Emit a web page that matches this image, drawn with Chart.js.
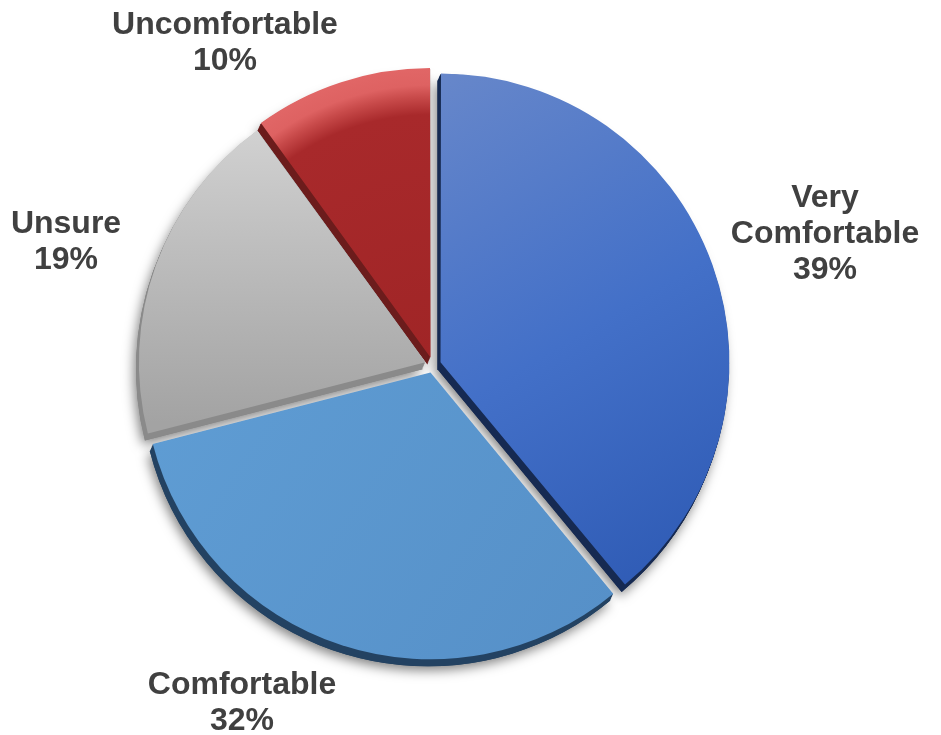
<!DOCTYPE html>
<html>
<head>
<meta charset="utf-8">
<script src="https://cdn.jsdelivr.net/npm/chart.js@4/dist/chart.umd.min.js"></script>
<style>
  html, body { margin: 0; padding: 0; background: #ffffff; }
  #wrap { width: 941px; height: 735px; position: relative; }
</style>
</head>
<body>
<div id="wrap"><canvas id="pieChart"></canvas></div>
<script>
// Survey answers, share of respondents (%)
const categories = ['Very Comfortable', 'Comfortable', 'Unsure', 'Uncomfortable'];
const shares = [39, 32, 19, 10];

// Label text lines as shown next to each slice
const labelLines = [
    ['Very', 'Comfortable'],
    ['Comfortable'],
    ['Unsure'],
    ['Uncomfortable']
];

// where each label block sits (first baseline) - layout only
const labelAnchors = [
    { x: 825, y: 207 },
    { x: 242, y: 694 },
    { x: 66, y: 233 },
    { x: 225, y: 34 }
];

const sideColors = ['#162a52', '#234262', '#8a8a8a', '#6c1c1c'];

function faceColor(context) {
    const chart = context.chart;
    const area = chart.chartArea;
    const i = context.dataIndex;
    const flat = ['#4470c6', '#5b98d0', '#b5b5b5', '#a8292b'];
    if (!area) return flat[i];
    const c = chart.ctx;
    const cx = (area.left + area.right) / 2;
    const cy = (area.top + area.bottom) / 2;
    let g;
    if (i === 0) {
        g = c.createLinearGradient(cx, cy - 290, cx + 300, cy + 220);
        g.addColorStop(0, '#6787ca');
        g.addColorStop(0.5, '#4370c8');
        g.addColorStop(1, '#2c58b2');
    } else if (i === 1) {
        g = c.createLinearGradient(cx - 280, cy, cx + 150, cy + 290);
        g.addColorStop(0, '#5f9dd4');
        g.addColorStop(1, '#5690c8');
    } else if (i === 2) {
        g = c.createLinearGradient(cx, cy - 250, cx, cy + 60);
        g.addColorStop(0, '#d4d4d4');
        g.addColorStop(0.35, '#c2c2c2');
        g.addColorStop(1, '#a3a3a3');
    } else {
        g = c.createRadialGradient(cx, cy, 0, cx, cy, 296);
        g.addColorStop(0, '#a02526');
        g.addColorStop(0.82, '#a8292b');
        g.addColorStop(0.88, '#c84a4a');
        g.addColorStop(0.92, '#de6262');
        g.addColorStop(1, '#e26868');
    }
    return g;
}

// thick side of each slice + soft drop shadow, drawn under the faces
const extrudePlugin = {
    id: 'extrude',
    beforeDatasetsDraw(chart) {
        const ctx = chart.ctx;
        const meta = chart.getDatasetMeta(0);
        const depthX = -3, depthY = 7;

        function slicePath(el) {
            const off = (el.options.offset || 0) / 4;
            const half = (el.startAngle + el.endAngle) / 2;
            const circ = el.endAngle - el.startAngle;
            const fix = 1 - Math.sin(Math.min(Math.PI, circ));
            const R = el.outerRadius + off * fix;
            const x = el.x + Math.cos(half) * off;
            const y = el.y + Math.sin(half) * off;
            ctx.beginPath();
            ctx.moveTo(x, y);
            ctx.arc(x, y, R, el.startAngle, el.endAngle);
            ctx.closePath();
        }

        // drop shadow pass
        meta.data.forEach((el, i) => {
            ctx.save();
            ctx.shadowColor = 'rgba(0,0,0,0.5)';
            ctx.shadowBlur = 12;
            ctx.shadowOffsetX = -2;
            ctx.shadowOffsetY = 4;
            ctx.translate(depthX, depthY);
            ctx.fillStyle = sideColors[i];
            slicePath(el);
            ctx.fill();
            ctx.restore();
        });

        // solid side pass
        meta.data.forEach((el, i) => {
            for (let k = 1; k <= 8; k++) {
                ctx.save();
                ctx.translate(depthX * k / 8, depthY * k / 8);
                ctx.fillStyle = sideColors[i];
                slicePath(el);
                ctx.fill();
                ctx.restore();
            }
        });
    }
};

const labelPlugin = {
    id: 'sliceLabels',
    afterDraw(chart) {
        const ctx = chart.ctx;
        const values = chart.data.datasets[0].data;
        ctx.save();
        ctx.font = 'bold 32px "Liberation Sans", Arial, sans-serif';
        ctx.fillStyle = '#404040';
        ctx.textAlign = 'center';
        ctx.textBaseline = 'alphabetic';
        labelLines.forEach((lines, i) => {
            const a = labelAnchors[i];
            const all = [...lines, values[i] + '%'];
            all.forEach((t, j) => {
                ctx.fillText(t, a.x, a.y + j * 36);
            });
        });
        ctx.restore();
    }
};

const ctx = document.getElementById('pieChart');

new Chart(ctx, {
    type: 'pie',
    data: {
        labels: categories,
        datasets: [{
            data: shares,
            backgroundColor: faceColor,
            borderWidth: 0,
            offset: 32,
            hoverOffset: 32
        }]
    },
    options: {
        responsive: true,
        maintainAspectRatio: false,
        animation: false,
        radius: 286,
        layout: {
            padding: { left: 0, top: 0, right: 75, bottom: 5 }
        },
        plugins: {
            legend: { display: false },
            tooltip: { enabled: false }
        }
    },
    plugins: [extrudePlugin, labelPlugin]
});
</script>
</body>
</html>
